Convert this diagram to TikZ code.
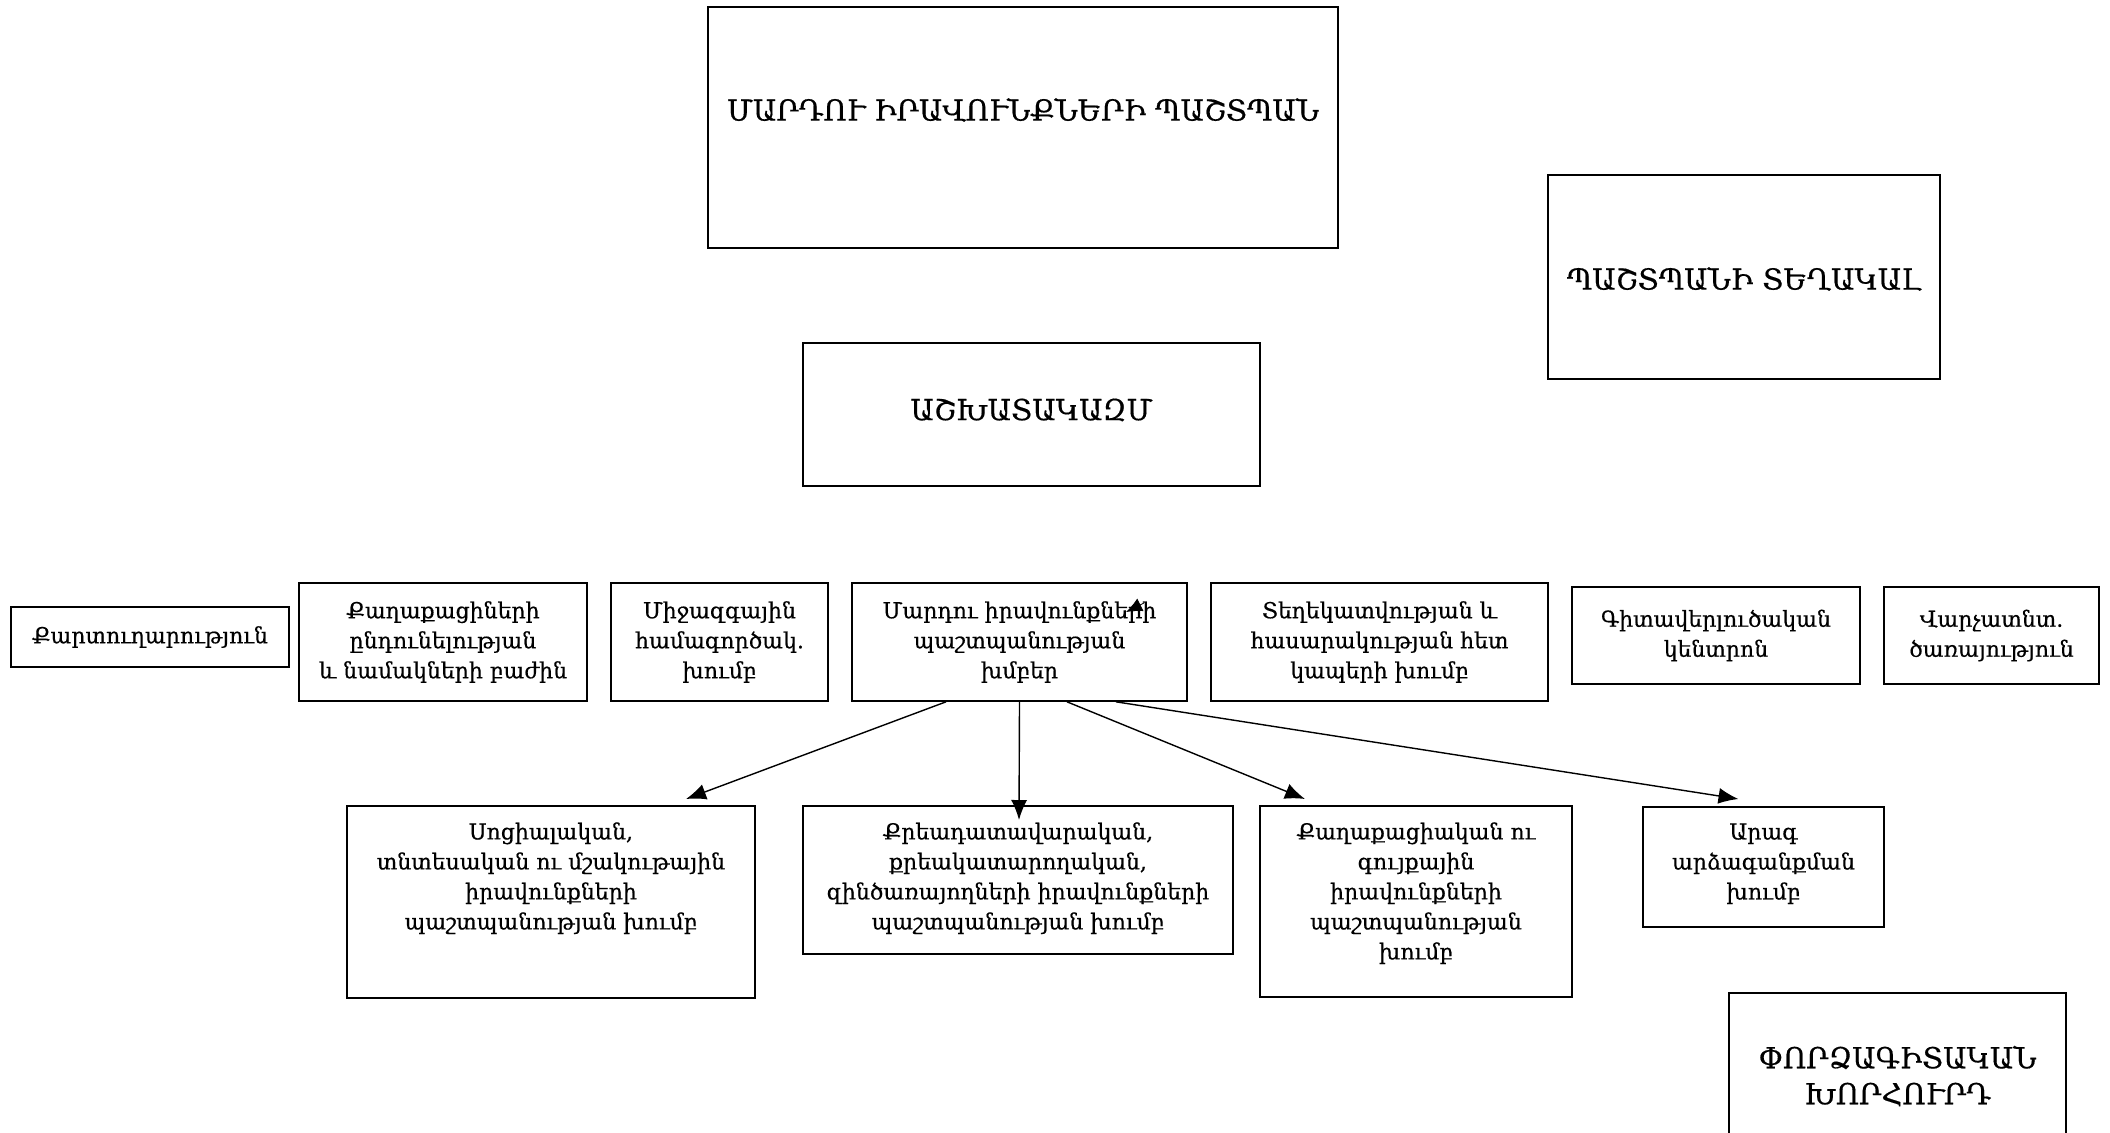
\documentclass[tikz,border=0pt]{standalone}
\usepackage{fontspec}
\setmainfont{DejaVu Serif}[UprightFeatures={FakeBold=0.5}]
\usetikzlibrary{arrows.meta}
\begin{document}
\begin{tikzpicture}[x=0.5pt, y=-0.5pt, >={Latex[length=10pt, width=8pt]},
    box/.style={draw, line width=0.8pt, inner sep=0pt},
    txt/.style={align=center, inner sep=0pt, font=\fontsize{11}{15}\selectfont},
    head/.style={align=center, inner sep=0pt, font=\fontsize{14.5}{18}\selectfont},
    arr/.style={->, line width=0.7pt}]
    \useasboundingbox (0,0) rectangle (2110,1132);
    % Վերին մակարդակ
    \node[box, minimum width=315pt, minimum height=120.5pt] (pashtpan) at (1023,127.5) {};
    \node[head] (pashtpantxt) at (1023,110) {ՄԱՐԴՈՒ ԻՐԱՎՈՒՆՔՆԵՐԻ ՊԱՇՏՊԱՆ};
    \node[box, minimum width=196pt, minimum height=102pt] (teghakal) at (1744,277) {};
    \node[head] (teghakaltxt) at (1744,279) {ՊԱՇՏՊԱՆԻ ՏԵՂԱԿԱԼ};
    \node[box, minimum width=228.5pt, minimum height=71.5pt] (ashkh) at (1031.5,414.5) {};
    \node[head] (ashkhtxt) at (1031.5,410) {ԱՇԽԱՏԱԿԱԶՄ};
    
    % Ստորաբաժանումներ
    \node[box, txt, minimum width=139pt, minimum height=30pt] (kartugh) at (150,637) {Քարտուղարություն};
    \node[box, txt, minimum width=144pt, minimum height=59pt] (kaghak) at (443,642)
        {Քաղաքացիների\\ընդունելության\\և նամակների բաժին};
    \node[box, txt, minimum width=108.5pt, minimum height=59pt] (mijazg) at (719.5,642)
        {Միջազգային\\համագործակ.\\խումբ};
    \node[box, txt, minimum width=167.5pt, minimum height=59pt] (mardu) at (1019.5,642)
        {Մարդու իրավունքների\\պաշտպանության\\խմբեր};
    \node[box, txt, minimum width=168.5pt, minimum height=59pt] (teghek) at (1379.5,642)
        {Տեղեկատվության և\\հասարակության հետ\\կապերի խումբ};
    \node[box, txt, minimum width=144pt, minimum height=48.5pt] (gitaver) at (1716,635.5)
        {Գիտավերլուծական\\կենտրոն};
    \node[box, txt, minimum width=107.5pt, minimum height=48.5pt] (varch) at (1991.5,635.5)
        {Վարչատնտ.\\ծառայություն};
    
    % Խմբեր
    \node[box, anchor=north, minimum width=204pt, minimum height=96pt] (soc) at (551,805) {};
    \node[txt, anchor=north] (soctxt) at ([shift={(0,17)}]soc.north)
        {Սոցիալական,\\տնտեսական ու մշակութային\\իրավունքների\\պաշտպանության խումբ};
    \node[box, anchor=north, minimum width=215pt, minimum height=74pt] (kreak) at (1018,805) {};
    \node[txt, anchor=north] (kreaktxt) at ([shift={(0,17)}]kreak.north)
        {Քրեադատավարական,\\քրեակատարողական,\\զինծառայողների իրավունքների\\պաշտպանության խումբ};
    \node[box, anchor=north, minimum width=156pt, minimum height=95.5pt] (kaghakats) at (1416,805) {};
    \node[txt, anchor=north] (kaghakatstxt) at ([shift={(0,17)}]kaghakats.north)
        {Քաղաքացիական ու\\գույքային\\իրավունքների\\պաշտպանության\\խումբ};
    \node[box, anchor=north, minimum width=120.5pt, minimum height=60pt] (arag) at (1763.5,806) {};
    \node[txt, anchor=north] (aragtxt) at ([shift={(0,17)}]arag.north)
        {Արագ\\արձագանքման\\խումբ};
    \node[box, anchor=north, minimum width=168.5pt, minimum height=84pt] (porz) at (1897.5,992) {};
    \node[head] (porztxt) at (1897.5,1076)
        {ՓՈՐՁԱԳԻՏԱԿԱՆ\\ԽՈՐՀՈՒՐԴ};
    
    % Սլաքներ
    \draw[arr] ([shift={(-73.5,0)}]mardu.south) -- ([shift={(135,-6)}]soc.north);
    \draw[arr] (mardu.south) -- ([shift={(1,15)}]kreak.north);
    \draw[arr] ([shift={(47.5,0)}]mardu.south) -- ([shift={(-111,-6)}]kaghakats.north);
    \draw[arr] ([shift={(96.5,0)}]mardu.south) -- ([shift={(-25,-7)}]arag.north);
    \coordinate (stray) at (1144,603);
    \draw[-{Latex[length=8pt, width=7pt]}, line width=0.4pt] (stray) -- (1126,612);
\end{tikzpicture}
\end{document}
